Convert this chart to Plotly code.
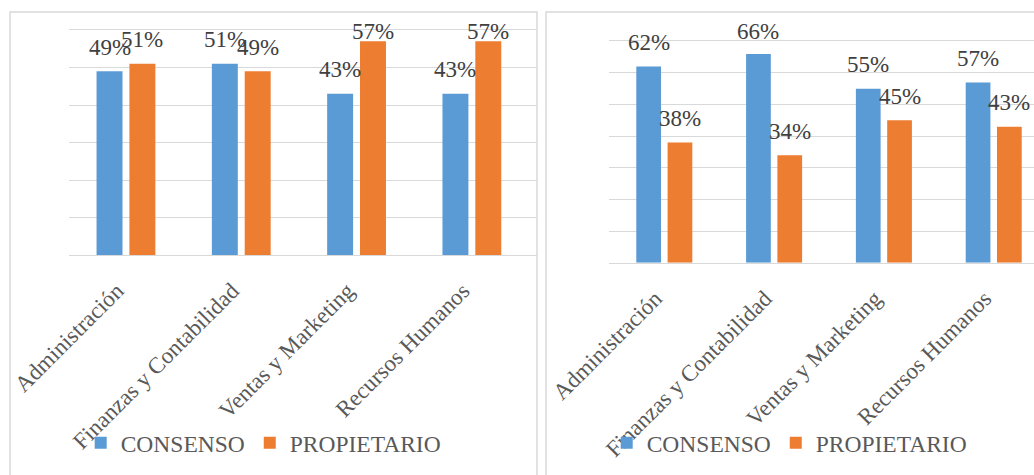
import plotly.graph_objects as go

W, H = 1034, 475

categories = ["Administración", "Finanzas y Contabilidad", "Ventas y Marketing", "Recursos Humanos"]
series_names = ["CONSENSO", "PROPIETARIO"]
left_consenso = [0.49, 0.51, 0.43, 0.43]
left_propietario = [0.51, 0.49, 0.57, 0.57]
right_consenso = [0.62, 0.66, 0.55, 0.57]
right_propietario = [0.38, 0.34, 0.45, 0.43]
left_ticks = [0, 0.1, 0.2, 0.3, 0.4, 0.5, 0.6]
right_ticks = [0, 0.1, 0.2, 0.3, 0.4, 0.5, 0.6, 0.7]

BLUE = "#5b9bd5"
ORANGE = "#ed7d31"
GRID = "#d9d9d9"
FONT = "Liberation Serif"
BARGAP = 0.43


def fx(px):
    return px / W


def fy(py):
    return 1 - py / H


fig = go.Figure()

panels = [
    dict(x="x", y="y", legend="legend", data=[left_consenso, left_propietario],
         base=255.0, top=30.0, vmax=0.6),
    dict(x="x2", y="y2", legend="legend2", data=[right_consenso, right_propietario],
         base=262.7, top=41.3, vmax=0.7),
]

colors = [BLUE, ORANGE]
annotations = []
for p in panels:
    for s, (name, vals, col) in enumerate(zip(series_names, p["data"], colors)):
        fig.add_trace(go.Bar(
            x=categories, y=vals, name=name, marker=dict(color=col, line=dict(width=0)),
            xaxis=p["x"], yaxis=p["y"], legend=p["legend"], hoverinfo="skip",
        ))
        off = (-1 if s == 0 else 1) * (1 - BARGAP) / 4
        plot_h = p["base"] - p["top"]
        for i, v in enumerate(vals):
            bar_top = p["base"] - v / p["vmax"] * plot_h
            center = max(bar_top - 24, 32)
            annotations.append(dict(
                x=i + off, y=v, xref=p["x"], yref=p["y"],
                text=f"{round(v * 100)}%", showarrow=False,
                yanchor="middle", xanchor="center", yshift=bar_top - center,
                font=dict(family=FONT, size=23, color="#404040"),
            ))

# x axis line (bottom) + mirrored line (top) act as the 0 and max gridlines
axis_common = dict(showgrid=False, zeroline=False, ticks="", automargin=False,
                   showline=True, mirror=True, linecolor=GRID, linewidth=1.4,
                   tickangle=-45, ticklabelstandoff=12, ticklabelshift=-9,
                   tickfont=dict(family=FONT, size=23, color="#595959"))
yaxis_common = dict(showgrid=True, gridcolor=GRID, gridwidth=1.4, zeroline=False,
                    showticklabels=False, ticks="", automargin=False, tickmode="array")

legend_common = dict(orientation="h", xanchor="left", yanchor="middle",
                     font=dict(family=FONT, size=23.5, color="#595959"),
                     bgcolor="rgba(0,0,0,0)", itemclick=False)

shapes = [
    dict(type="rect", xref="paper", yref="paper", x0=fx(10), x1=fx(537), y0=-0.2, y1=fy(12),
         line=dict(color=GRID, width=1.5), layer="below"),
    dict(type="rect", xref="paper", yref="paper", x0=fx(546), x1=1.2, y0=-0.2, y1=fy(12),
         line=dict(color=GRID, width=1.5), layer="below"),
]

L, R = panels
fig.update_layout(
    template="none",
    width=W, height=H,
    margin=dict(l=0, r=0, t=0, b=0),
    paper_bgcolor="white", plot_bgcolor="rgba(0,0,0,0)",
    barmode="group", bargap=BARGAP, bargroupgap=0.21,
    xaxis=dict(domain=[fx(69), fx(537)], range=[-0.494, 3.565], anchor="y", **axis_common),
    yaxis=dict(domain=[fy(L["base"]), fy(L["top"])], range=[0, L["vmax"]],
               tickvals=left_ticks, anchor="x", **yaxis_common),
    xaxis2=dict(domain=[fx(609.4), 1], range=[-0.5, 3.367], anchor="y2", **axis_common),
    yaxis2=dict(domain=[fy(R["base"]), fy(R["top"])], range=[0, R["vmax"]],
                tickvals=right_ticks, anchor="x2", **yaxis_common),
    legend=dict(x=fx(80.7), y=fy(443), **legend_common),
    legend2=dict(x=fx(606.7), y=fy(443), **legend_common),
    annotations=annotations,
    shapes=shapes,
    showlegend=True,
)

fig.write_html("out.html")
